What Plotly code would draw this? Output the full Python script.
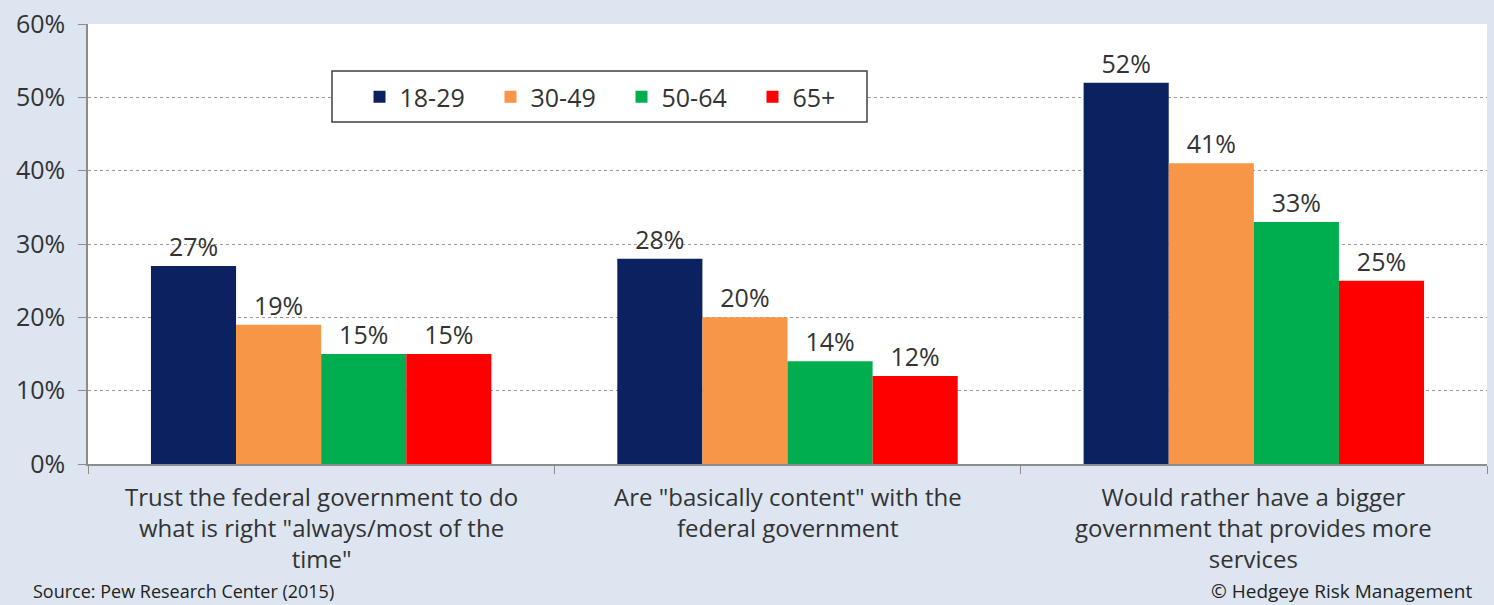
import plotly.graph_objects as go

categories = ["Trust", "Content", "Bigger"]
category_labels = [
    'Trust the federal government to do<br>what is right "always/most of the<br>time"',
    'Are "basically content" with the<br>federal government',
    "Would rather have a bigger<br>government that provides more<br>services",
]
series_names = ["18-29", "30-49", "50-64", "65+"]
values_18_29 = [27, 28, 52]
values_30_49 = [19, 20, 41]
values_50_64 = [15, 14, 33]
values_65_plus = [15, 12, 25]
colors = ["#0c215f", "#f79646", "#00ad4f", "#ff0000"]
y_ticks = [0, 10, 20, 30, 40, 50, 60]
y_tick_labels = ["0%", "10%", "20%", "30%", "40%", "50%", "60%"]

FONT = "Open Sans"
TXT = "#333333"
W, H = 1494, 605
ML, MR, MT, MB = 88, 7, 24, 141
PW, PH = W - ML - MR, H - MT - MB


def px_x(x):
    return (x - ML) / PW


def px_y(y):
    return (H - MB - y) / PH


fig = go.Figure()
for name, vals, col in zip(series_names,
                           [values_18_29, values_30_49, values_50_64, values_65_plus],
                           colors):
    fig.add_trace(go.Bar(
        name=name, x=categories, y=vals, marker=dict(color=col, line=dict(width=0)),
        text=[f"{v}%" for v in vals], textposition="outside",
        textfont=dict(family=FONT, size=25, color=TXT), cliponaxis=False,
    ))

annotations = []
for cat, label in zip(categories, category_labels):
    annotations.append(dict(
        text=label, xref="x", yref="paper", x=cat, y=0, yshift=-14,
        xanchor="center", yanchor="top", showarrow=False, align="center",
        font=dict(family=FONT, size=24, color=TXT)))

annotations += [
    dict(text="Source: Pew Research Center (2015)", xref="paper", yref="paper",
         x=px_x(31), y=px_y(591), xanchor="left", yanchor="middle", showarrow=False,
         font=dict(family=FONT, size=18, color="#222222")),
    dict(text="© Hedgeye Risk Management", xref="paper", yref="paper",
         x=px_x(1474), y=px_y(591), xanchor="right", yanchor="middle", showarrow=False,
         font=dict(family=FONT, size=19, color="#222222")),
]

fig.update_layout(
    width=W, height=H,
    margin=dict(l=ML, r=MR, t=MT, b=MB),
    paper_bgcolor="#dce5f0", plot_bgcolor="#ffffff",
    barmode="group", bargap=0.27, bargroupgap=0,
    font=dict(family=FONT, color=TXT),
    showlegend=True,
    legend=dict(
        orientation="h", x=px_x(359.5), y=px_y(97), xanchor="left", yanchor="middle",
        bgcolor="rgba(0,0,0,0)", borderwidth=0,
        font=dict(family=FONT, size=25, color=TXT),
        entrywidth=86, entrywidthmode="pixels",
        itemwidth=30, tracegroupgap=0,
    ),
    shapes=[dict(type="rect", xref="paper", yref="paper",
                 x0=px_x(332), x1=px_x(867), y0=px_y(122), y1=px_y(71),
                 fillcolor="#ffffff", line=dict(color="#404040", width=1.5),
                 layer="above")],
    annotations=annotations,
)
fig.update_yaxes(
    range=[0, 60], tickvals=y_ticks, ticktext=y_tick_labels,
    tickfont=dict(family=FONT, size=25, color=TXT), ticklabelstandoff=8,
    showgrid=True, gridcolor="#9a9a9a", griddash="dot", gridwidth=1,
    showline=True, linecolor="#8c8c8c", linewidth=1.5,
    ticks="outside", ticklen=8, tickcolor="#8c8c8c", zeroline=False,
)
fig.update_xaxes(
    showticklabels=False,
    showline=True, linecolor="#8c8c8c", linewidth=1.5,
    ticks="outside", tickson="boundaries", ticklen=8, tickcolor="#8c8c8c",
    showgrid=False,
)
fig.write_html("out.html")
